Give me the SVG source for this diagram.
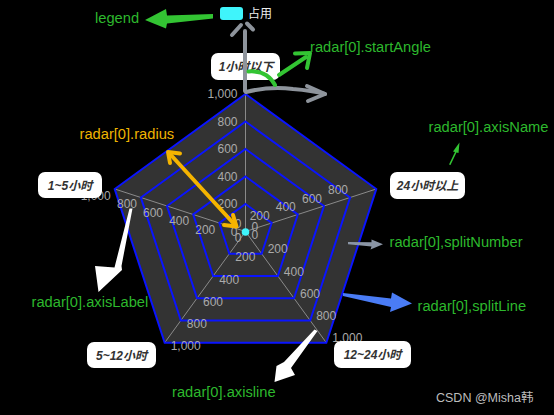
<svg xmlns="http://www.w3.org/2000/svg" width="554" height="415" viewBox="0 0 554 415">
<defs>
<style>
.lbl{font-family:"Liberation Sans",Arial,sans-serif;font-size:12px;fill:#aaaaaa}
.ring{fill:none;stroke:#0a14ff;stroke-width:2;stroke-linejoin:miter}
.axis{stroke:#8a8a8a;stroke-width:1}
.nbox{fill:#ffffff}
.ntxt{font-family:"Liberation Sans","Noto Sans CJK SC",sans-serif;font-size:12px;font-weight:bold;font-style:italic;fill:#333333;text-anchor:middle}
.ann{font-family:"Liberation Sans",Arial,sans-serif;font-size:14.7px;fill:#2db82d}
.gray{fill:none;stroke:#8e949c;stroke-width:4;stroke-linecap:round;stroke-linejoin:round}
.gline{fill:none;stroke:#33c433;stroke-width:4;stroke-linecap:round;stroke-linejoin:round}
.oline{fill:none;stroke:#f5b400;stroke-width:4;stroke-linecap:round;stroke-linejoin:round}
</style>
</defs>
<rect x="0" y="0" width="554" height="415" fill="#000000"/>

<g id="radar">
<polygon points="245.5,94 376.28,189.01 326.32,342.74 164.68,342.74 114.72,189.01" fill="#333333"/>
<g id="axes">
<line class="axis" x1="245.5" y1="231.5" x2="245.5" y2="94"/>
<line class="axis" x1="245.5" y1="231.5" x2="114.72" y2="189.01"/>
<line class="axis" x1="245.5" y1="231.5" x2="164.68" y2="342.74"/>
<line class="axis" x1="245.5" y1="231.5" x2="326.32" y2="342.74"/>
<line class="axis" x1="245.5" y1="231.5" x2="376.28" y2="189.01"/>
</g>
<g id="splitLines">
<polygon class="ring" points="245.5,204 271.66,223 261.66,253.75 229.34,253.75 219.34,223"/>
<polygon class="ring" points="245.5,176.5 297.81,214.5 277.83,276 213.17,276 193.19,214.5"/>
<polygon class="ring" points="245.5,149 323.97,206.01 293.99,298.24 197.01,298.24 167.03,206.01"/>
<polygon class="ring" points="245.5,121.5 350.12,197.51 310.16,320.49 180.84,320.49 140.88,197.51"/>
<polygon class="ring" points="245.5,94 376.28,189.01 326.32,342.74 164.68,342.74 114.72,189.01"/>
</g>
<g id="axisLabels">
<g text-anchor="end">
<text class="lbl" x="237.5" y="235.5">0</text>
<text class="lbl" x="237.5" y="208">200</text>
<text class="lbl" x="237.5" y="180.5">400</text>
<text class="lbl" x="237.5" y="153">600</text>
<text class="lbl" x="237.5" y="125.5">800</text>
<text class="lbl" x="237.5" y="98">1,000</text>
<text class="lbl" x="241.5" y="228">0</text>
<text class="lbl" x="269.7" y="219.5">200</text>
<text class="lbl" x="295.8" y="211">400</text>
<text class="lbl" x="322" y="202.5">600</text>
<text class="lbl" x="348" y="194">800</text>
<text class="lbl" x="241.5" y="242">0</text>
<text class="lbl" x="215.3" y="233.5">200</text>
<text class="lbl" x="189.2" y="225">400</text>
<text class="lbl" x="163" y="216.5">600</text>
<text class="lbl" x="137" y="208">800</text>
<text class="lbl" x="110.7" y="199.5">1,000</text>
</g>
<text class="lbl" x="251.5" y="239">0</text>
<text class="lbl" x="235.3" y="261.2">200</text>
<text class="lbl" x="219.2" y="283.5">400</text>
<text class="lbl" x="203" y="305.7">600</text>
<text class="lbl" x="186.8" y="328">800</text>
<text class="lbl" x="170.7" y="350.2">1,000</text>
<text class="lbl" x="251.5" y="231">0</text>
<text class="lbl" x="267.7" y="253.2">200</text>
<text class="lbl" x="283.8" y="275.5">400</text>
<text class="lbl" x="300" y="297.8">600</text>
<text class="lbl" x="316.2" y="320">800</text>
<text class="lbl" x="332.3" y="342.2">1,000</text>
</g>
<circle cx="245.5" cy="232" r="3.8" fill="#3ff4fb"/>
</g>

<g id="name-1h">
<rect class="nbox" x="211" y="53" width="69" height="27" rx="7"/>
<text class="ntxt" x="246" y="71">1小时以下</text>
</g>
<g id="name-24h">
<rect class="nbox" x="390" y="172" width="75" height="27" rx="7"/>
<text class="ntxt" x="427.5" y="190">24小时以上</text>
</g>
<g id="name-12-24h">
<rect class="nbox" x="334" y="341" width="77" height="27" rx="7"/>
<text class="ntxt" x="372.5" y="359">12~24小时</text>
</g>
<g id="name-5-12h">
<rect class="nbox" x="87" y="342" width="69" height="26" rx="7"/>
<text class="ntxt" x="121.5" y="359.5">5~12小时</text>
</g>
<g id="name-1-5h">
<rect class="nbox" x="38" y="172" width="64" height="26" rx="7"/>
<text class="ntxt" x="70" y="189.5">1~5小时</text>
</g>

<g id="legend">
<rect x="220" y="7" width="23" height="13" rx="3" fill="#3ff4fb"/>
<text x="248" y="18" style="font-family:'Liberation Sans','Noto Sans CJK SC',sans-serif;font-size:12px;fill:#eeeeee">占用</text>
</g>

<g id="connectors">
<polygon points="213,14 167,15.5 166,9 145,20 166,28.5 167,23.5 213,18.5" fill="#33c433"/>
<path class="gray" d="M245,91 L245,31"/>
<path class="gray" d="M232,35 L241,25 M247,23.5 L253,29.5"/>
<path class="gray" d="M246,92 Q270,86 293,89 Q312,90.5 325,94"/>
<path class="gray" d="M307,86 L325,94 L308,101"/>
<path class="gline" d="M248.5,71.5 Q267,70 275,85"/>
<path class="gline" d="M279,75 L306,57"/>
<path class="gline" d="M295,53.5 L310,53 L307,68"/>
<path class="oline" d="M170,154 L235,225"/>
<path class="oline" d="M170,163 L168,152 L180,153.5"/>
<path class="oline" d="M224,225 L236.5,226.5 L233,215"/>
<polygon points="449,164.5 455,152 453,151.5 459.5,142.5 458.5,153 456.5,152.5 450.5,165" fill="#33c433"/>
<polygon points="348,242 371.5,242.3 371.5,239.5 383,244.3 370.5,249.5 371.5,246.5 348,244.2" fill="#8a95a5"/>
<polygon points="343,293 391,298.5 392,292.5 412,303.5 390,312 391,307 343,296" fill="#4a7cf5"/>
<polygon points="129.5,208.5 132.5,208.5 121.5,266 122,270 98.5,292 95,266 114.5,267.5" fill="#ffffff"/>
<polygon points="314.5,329.5 317.5,331 291,368 295,375 274.5,382 276.5,366 284,362" fill="#ffffff"/>
</g>

<g id="annotations">
<text class="ann" x="95" y="22.5">legend</text>
<text class="ann" x="310" y="52.3">radar[0].startAngle</text>
<text class="ann" x="79.5" y="139.3" style="fill:#f0b400">radar[0].radius</text>
<text class="ann" x="428.5" y="131.7">radar[0].axisName</text>
<text class="ann" x="389.5" y="247.3">radar[0],splitNumber</text>
<text class="ann" x="417.5" y="310.7">radar[0],splitLine</text>
<text class="ann" x="31.5" y="306.7">radar[0].axisLabel</text>
<text class="ann" x="172" y="397.3">radar[0].axisline</text>
</g>
<text x="436" y="402" style="font-family:'Liberation Sans','Noto Sans CJK SC',sans-serif;font-size:12.5px;fill:#bdbdbd">CSDN @Misha韩</text>
</svg>
